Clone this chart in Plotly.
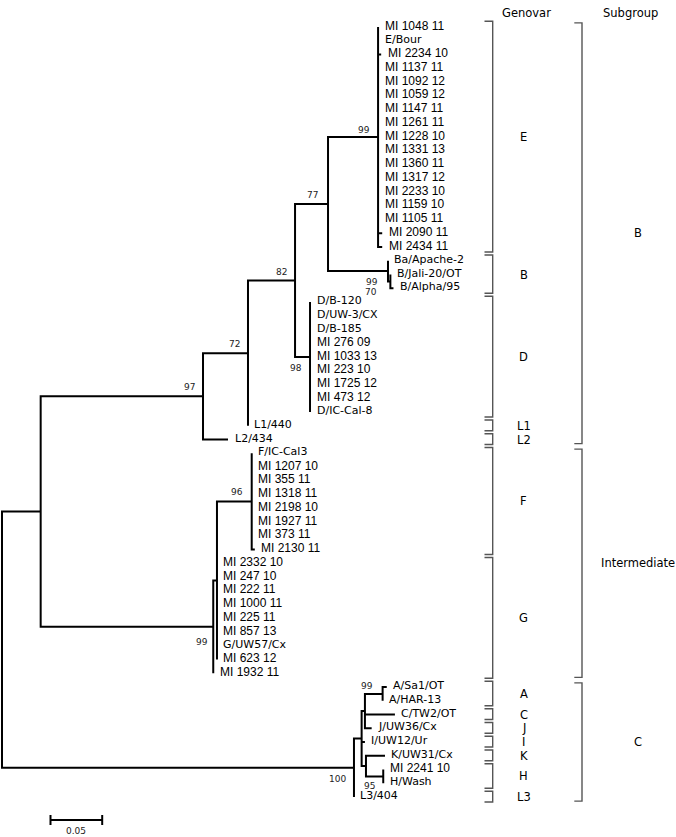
import plotly.graph_objects as go

# ---------------- page / scale constants ----------------
W, H = 676, 837
PX_PER_UNIT = 1034.0      # 0.05 substitutions/site ~ 51.7 px (scale bar)
ROOT_PX = 2.0             # horizontal pixel of the root
TOP_ROW_PX = 27.0         # vertical pixel of the first leaf row
ROW_PX = 13.75            # distance between leaf rows


def xd(px):
    return (px - ROOT_PX) / PX_PER_UNIT


def yd(py):
    return (py - TOP_ROW_PX) / ROW_PX


# ---------------- data: leaves and terminal branch lengths ----------------
E_LEAVES = ["MI 1048 11", "E/Bour", "MI 2234 10", "MI 1137 11", "MI 1092 12", "MI 1059 12",
            "MI 1147 11", "MI 1261 11", "MI 1228 10", "MI 1331 13", "MI 1360 11", "MI 1317 12",
            "MI 2233 10", "MI 1159 10", "MI 1105 11", "MI 2090 11", "MI 2434 11"]
E_TIP_LEN = [0.0, 0.0, 0.003, 0.0, 0.0, 0.0, 0.0, 0.0, 0.0, 0.0, 0.0, 0.0, 0.0, 0.0, 0.0, 0.004, 0.004]

B_LEAVES = ["Ba/Apache-2", "B/Jali-20/OT", "B/Alpha/95"]
B_TIP_LEN = [0.0, 0.0, 0.003]

D_LEAVES = ["D/B-120", "D/UW-3/CX", "D/B-185", "MI 276 09", "MI 1033 13", "MI 223 10",
            "MI 1725 12", "MI 473 12", "D/IC-Cal-8"]
D_TIP_LEN = [0.0, 0.0, 0.0, 0.0, 0.0, 0.0, 0.0, 0.0, 0.0]

L1_LEAF, L1_LEN = "L1/440", 0.0
L2_LEAF, L2_LEN = "L2/434", 0.0242

F_LEAVES = ["F/IC-Cal3", "MI 1207 10", "MI 355 11", "MI 1318 11", "MI 2198 10", "MI 1927 11",
            "MI 373 11", "MI 2130 11"]
F_TIP_LEN = [0.0, 0.0, 0.0, 0.0, 0.0, 0.0, 0.0, 0.003]

G_LEAVES = ["MI 2332 10", "MI 247 10", "MI 222 11", "MI 1000 11", "MI 225 11", "MI 857 13",
            "G/UW57/Cx", "MI 623 12", "MI 1932 11"]
G_TIP_LEN = [0.0, 0.0, 0.0, 0.0, 0.0, 0.0, 0.0, 0.0, 0.0]

C_LEAVES = ["A/Sa1/OT", "A/HAR-13", "C/TW2/OT", "J/UW36/Cx", "I/UW12/Ur", "K/UW31/Cx",
            "MI 2241 10", "H/Wash", "L3/404"]
C_TIP_LEN = [0.004, 0.0, 0.029, 0.0065, 0.0032, 0.0184, 0.0, 0.0, 0.0]

# internal branch lengths (substitutions/site)
BR_B_INT = 0.0374     # root -> (subgroup B + Intermediate)
BR_SUB_B = 0.1570     # -> subgroup B (97)
BR_72 = 0.0435
BR_82 = 0.0455
BR_77 = 0.0319
BR_E = 0.0484
BR_B = 0.0580
BR_B70 = 0.0023
BR_D = 0.0145
BR_INTER = 0.1669
BR_INTER_IN = 0.0036
BR_F = 0.0336
BR_SUB_C = 0.3404
BR_C_CORE = 0.0074
BR_ACJ = 0.0032
BR_A = 0.0171
BR_KH = 0.0042
BR_H = 0.0167

# bootstrap support values
BS_SUB_B, BS_72, BS_82, BS_77, BS_E, BS_B, BS_B70, BS_D = 97, 72, 82, 77, 99, 99, 70, 98
BS_F, BS_INTER, BS_SUB_C, BS_A, BS_H = 96, 99, 100, 99, 95

# genovar brackets: (label, first leaf, last leaf)
GENOVAR_LABELS = ["E", "B", "D", "L1", "L2", "F", "G", "A", "C", "J", "I", "K", "H", "L3"]
GENOVAR_FIRST = ["MI 1048 11", "Ba/Apache-2", "D/B-120", "L1/440", "L2/434", "F/IC-Cal3",
                 "MI 2332 10", "A/Sa1/OT", "C/TW2/OT", "J/UW36/Cx", "I/UW12/Ur", "K/UW31/Cx",
                 "MI 2241 10", "L3/404"]
GENOVAR_LAST = ["MI 2434 11", "B/Alpha/95", "D/IC-Cal-8", "L1/440", "L2/434", "MI 2130 11",
                "MI 1932 11", "A/HAR-13", "C/TW2/OT", "J/UW36/Cx", "I/UW12/Ur", "K/UW31/Cx",
                "H/Wash", "L3/404"]

SUBGROUP_LABELS = ["B", "Intermediate", "C"]
SUBGROUP_FIRST = ["MI 1048 11", "F/IC-Cal3", "A/Sa1/OT"]
SUBGROUP_LAST = ["L2/434", "MI 1932 11", "L3/404"]

SCALE_LEN = 0.05
SCALE_LABEL = "0.05"


# ---------------- tree building ----------------
def leaf(name, length):
    return {"name": name, "len": length, "kids": []}


def clade(kids, length, support=None, dy=0, dx=-6):
    # dy: label offset in px (positive = below the branch), dx: px from node
    return {"name": None, "len": length, "kids": kids, "support": support, "dy": dy, "dx": dx}


def leaves(names, lens):
    return [leaf(n, l) for n, l in zip(names, lens)]


e = clade(leaves(E_LEAVES, E_TIP_LEN), BR_E, BS_E, -7, -6)
b70 = clade(leaves(B_LEAVES[1:], B_TIP_LEN[1:]), BR_B70, BS_B70, 10.5, -11)
b = clade([leaf(B_LEAVES[0], B_TIP_LEN[0]), b70], BR_B, BS_B, 10.5, -8)
n77 = clade([e, b], BR_77, BS_77, -9, -8)
d = clade(leaves(D_LEAVES, D_TIP_LEN), BR_D, BS_D, 10.5, -6)
n82 = clade([n77, d], BR_82, BS_82, -9, -6)
n72 = clade([n82, leaf(L1_LEAF, L1_LEN)], BR_72, BS_72, -9, -6)
sub_b = clade([n72, leaf(L2_LEAF, L2_LEN)], BR_SUB_B, BS_SUB_B, -9, -6)

f = clade(leaves(F_LEAVES, F_TIP_LEN), BR_F, BS_F, -9, -7)
inter_in = clade([f] + leaves(G_LEAVES[:-1], G_TIP_LEN[:-1]), BR_INTER_IN)
inter = clade([inter_in, leaf(G_LEAVES[-1], G_TIP_LEN[-1])], BR_INTER, BS_INTER, 15.5, -3)
b_int = clade([sub_b, inter], BR_B_INT)

cl = leaves(C_LEAVES, C_TIP_LEN)
a = clade(cl[0:2], BR_A, BS_A, -8, -8)
acj = clade([a, cl[2], cl[3]], BR_ACJ)
h = clade(cl[6:8], BR_H, BS_H, 10, -6)
kh = clade([cl[5], h], BR_KH)
core = clade([acj, cl[4], kh], BR_C_CORE)
sub_c = clade([core, cl[8]], BR_SUB_C, BS_SUB_C, 11, -6)

root = clade([b_int, sub_c], 0.0)

leaf_nodes = []


def place(node, x0):
    node["x"] = x0 + node["len"]
    if not node["kids"]:
        node["y"] = float(len(leaf_nodes))
        leaf_nodes.append(node)
    else:
        for k in node["kids"]:
            place(k, node["x"])
        node["y"] = (node["kids"][0]["y"] + node["kids"][-1]["y"]) / 2.0


place(root, 0.0)
leaf_y = {n["name"]: n["y"] for n in leaf_nodes}

tx, ty = [], []
boot = []


def draw(node):
    if not node["kids"]:
        return
    k = node["kids"]
    first, last = k[0], k[-1]
    tx.extend([first["x"], node["x"], node["x"], last["x"], None])
    ty.extend([first["y"], first["y"], last["y"], last["y"], None])
    for m in k[1:-1]:
        tx.extend([node["x"], m["x"], None])
        ty.extend([m["y"], m["y"], None])
    if node.get("support") is not None:
        boot.append(node)
    for c in k:
        draw(c)


draw(root)

fig = go.Figure()
fig.add_trace(go.Scatter(x=tx, y=ty, mode="lines", hoverinfo="skip",
                         line=dict(color="black", width=2), showlegend=False))

annotations = []
for n in leaf_nodes:
    is_mi = n["name"].startswith("MI ")
    annotations.append(dict(
        x=n["x"], y=n["y"], text=n["name"], showarrow=False, xanchor="left", yanchor="middle",
        xshift=4.5, yshift=1.5,
        font=dict(family="Liberation Sans, Arial" if is_mi else "DejaVu Sans, Verdana",
                  size=12 if is_mi else 11, color="black")))

for n in boot:
    annotations.append(dict(
        x=n["x"], y=n["y"], text=str(n["support"]), showarrow=False, xanchor="right",
        yanchor="middle", xshift=n["dx"], yshift=-n["dy"],
        font=dict(family="DejaVu Sans, Verdana", size=9, color="#222")))


# ---------------- brackets ----------------
def bracket(y0, y1, xv_px, xt_px, color="#555"):
    fig.add_trace(go.Scatter(
        x=[xd(xt_px), xd(xv_px), xd(xv_px), xd(xt_px)], y=[y0, y0, y1, y1],
        mode="lines", hoverinfo="skip", showlegend=False,
        line=dict(color=color, width=1.4)))


group_font = dict(family="DejaVu Sans, Tahoma, Verdana", size=11.5, color="black")

for lab, fst, lst in zip(GENOVAR_LABELS, GENOVAR_FIRST, GENOVAR_LAST):
    y0, y1 = leaf_y[fst] - 0.42, leaf_y[lst] + 0.36
    bracket(y0, y1, 492.7, 484.5)
    annotations.append(dict(x=xd(523.5), y=(leaf_y[fst] + leaf_y[lst]) / 2, text=lab,
                            showarrow=False, xanchor="center", yanchor="middle",
                            font=group_font))

for lab, fst, lst in zip(SUBGROUP_LABELS, SUBGROUP_FIRST, SUBGROUP_LAST):
    y0, y1 = leaf_y[fst] - 0.3, leaf_y[lst] + 0.3
    bracket(y0, y1, 582.0, 574.3)
    annotations.append(dict(x=xd(638.0), y=(y0 + y1) / 2, text=lab,
                            showarrow=False, xanchor="center", yanchor="middle",
                            font=group_font))

annotations.append(dict(x=xd(526), y=yd(13), text="Genovar", showarrow=False,
                        xanchor="center", yanchor="middle", font=group_font))
annotations.append(dict(x=xd(630), y=yd(13), text="Subgroup", showarrow=False,
                        xanchor="center", yanchor="middle", font=group_font))

# ---------------- scale bar ----------------
sb_x0 = xd(50.5)
sb_x1 = sb_x0 + SCALE_LEN
sb_y = yd(820)
tick = 5.0 / ROW_PX
fig.add_trace(go.Scatter(
    x=[sb_x0, sb_x0, None, sb_x0, sb_x1, None, sb_x1, sb_x1],
    y=[sb_y - tick, sb_y + tick, None, sb_y, sb_y, None, sb_y - tick, sb_y + tick],
    mode="lines", hoverinfo="skip", showlegend=False,
    line=dict(color="black", width=2)))
annotations.append(dict(x=(sb_x0 + sb_x1) / 2, y=yd(831), text=SCALE_LABEL, showarrow=False,
                        xanchor="center", yanchor="middle",
                        font=dict(family="DejaVu Sans, Verdana", size=9, color="#222")))

fig.update_layout(
    width=W, height=H, margin=dict(l=0, r=0, t=0, b=0),
    paper_bgcolor="white", plot_bgcolor="white",
    xaxis=dict(visible=False, range=[xd(0), xd(W)], fixedrange=True),
    yaxis=dict(visible=False, range=[yd(H), yd(0)], fixedrange=True),
    annotations=annotations, showlegend=False,
)

fig.write_html(
    "out.html",
    config={"displayModeBar": False},
    post_script="document.body.style.margin='0';document.body.style.overflow='hidden';",
)
